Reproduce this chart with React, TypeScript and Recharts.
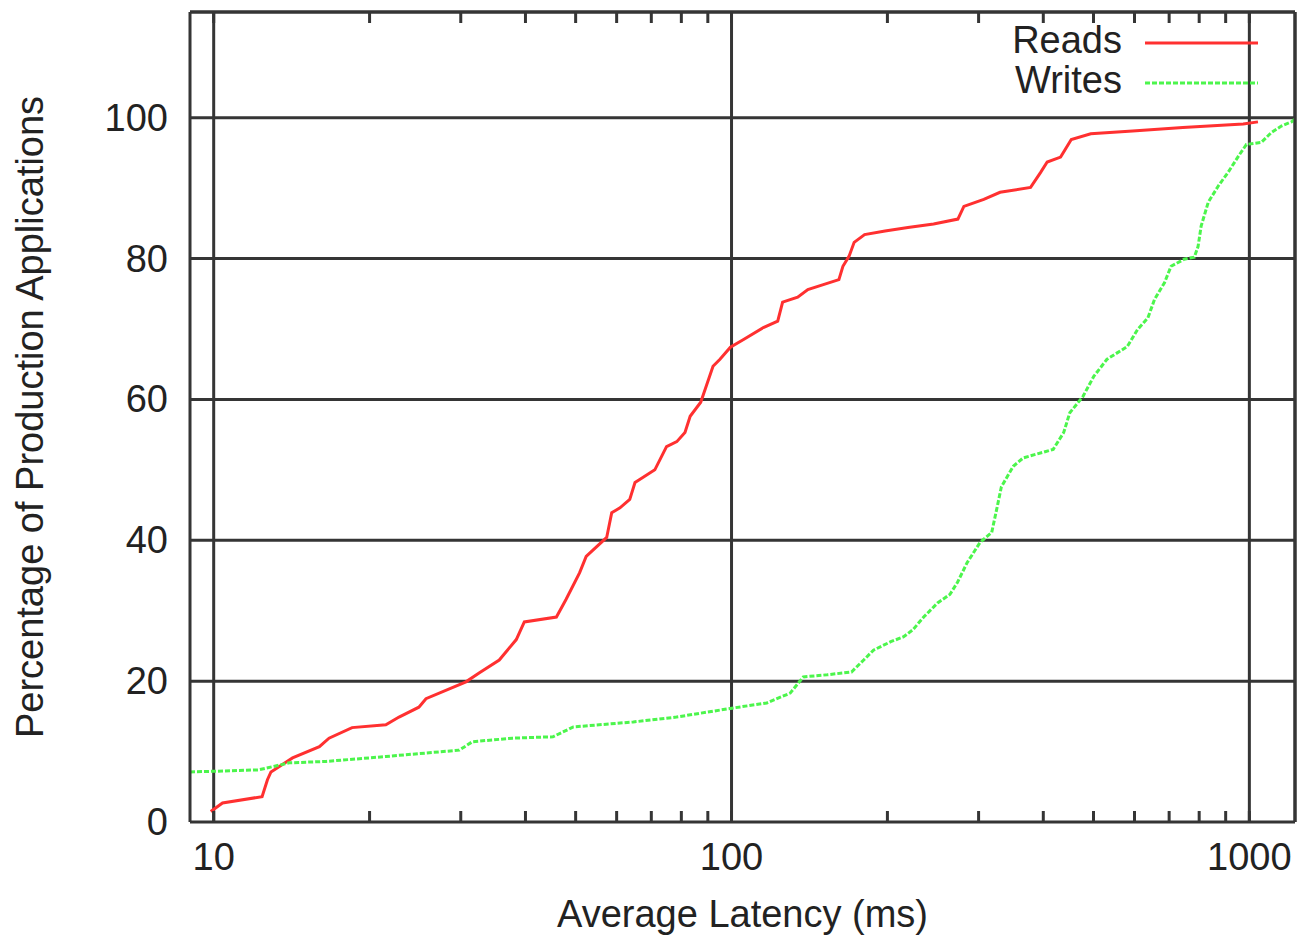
import { LineChart, Line, XAxis, YAxis, ReferenceLine, Legend } from 'recharts';

// latency (ms) / percentage
const readsLatency = [
  9.87, 10.4, 12.4, 12.7, 12.9, 14.2, 16, 16.7, 18.5, 21.5, 22.8, 24.9, 25.7, 30.7, 32.6, 35.6,
  38.4, 39.8, 45.9, 47.9, 50.9, 52.4, 57.4, 58.7, 60.9, 63.6, 65.1, 67.4, 71.1, 74.9, 78.4, 81.3,
  83.2, 87.2, 92.1, 95, 99.5, 105.5, 115.2, 122.8, 125.5, 134.2, 140.4, 150.4, 161.2, 164.1, 168.6,
  172.5, 180.7, 197.9, 219.1, 245.6, 273.6, 281, 307, 330, 378, 395, 407, 432, 453, 494, 595, 744,
  973, 1039,
];
const readsPct = [
  1.5, 2.7, 3.6, 6, 7.1, 9.1, 10.7, 11.9, 13.4, 13.8, 14.9, 16.3, 17.5, 19.9, 21.2, 23,
  25.9, 28.4, 29.1, 31.6, 35.4, 37.7, 40.4, 43.9, 44.6, 45.8, 48.2, 48.9, 50, 53.3, 54, 55.3,
  57.6, 59.6, 64.7, 65.7, 67.4, 68.5, 70.2, 71.1, 73.8, 74.5, 75.6, 76.3, 77, 78.9, 80.3,
  82.3, 83.4, 83.9, 84.4, 84.9, 85.6, 87.4, 88.4, 89.4, 90.1, 92.2, 93.7, 94.4, 96.9, 97.7, 98.1, 98.6,
  99.1, 99.4,
];

const writesLatency = [
  9, 12.2, 14, 16.5, 21.5, 29.8, 31.6, 37.8, 45.2, 49.5, 64.6, 78.3, 101, 117, 129.8, 137.6, 153,
  170.5, 180, 188, 203, 215, 224, 235, 250, 264, 273, 285, 302, 318, 326, 332, 350, 366, 418, 438,
  450, 477, 501, 531, 581, 608, 637, 656, 686, 706, 748, 783, 796, 807, 833, 871, 911, 952, 987,
  1055, 1103, 1153, 1206, 1225,
];
const writesPct = [
  7.1, 7.4, 8.4, 8.6, 9.3, 10.2, 11.4, 11.9, 12.1, 13.5, 14.2, 14.9, 16.2, 16.9, 18.3, 20.6, 20.9,
  21.3, 23, 24.4, 25.6, 26.3, 27.3, 29.1, 31.1, 32.3, 34, 36.8, 39.7, 41.1, 44.8, 47.6, 50.5, 51.7, 52.9, 55.3,
  58.1, 60.4, 63.3, 65.7, 67.5, 69.9, 71.6, 74.2, 76.6, 78.9, 79.9, 80.2, 81.7, 84.6, 88, 90.3, 92.3, 94.5, 96.2,
  96.5, 97.9, 98.8, 99.4, 99.8,
];

const xDomain = [9, 1225];
const yDomain = [0, 115];
const xMajor = [10, 100, 1000];
const xTicks = [10, 20, 30, 40, 50, 60, 70, 80, 90, 100, 200, 300, 400, 500, 600, 700, 800, 900, 1000];
const yTicks = [0, 20, 40, 60, 80, 100];
const yGrid = [20, 40, 60, 80, 100];

const readsData = readsLatency.map((x, i) => ({ x, y: readsPct[i] }));
const writesData = writesLatency.map((x, i) => ({ x, y: writesPct[i] }));

const font = '"Liberation Sans", Arial, sans-serif';
const ink = '#222';
const gridColor = '#353535';

const BottomTick = (props: any) => {
  const { x, y, payload } = props;
  return (
    <g>
      <line x1={x} x2={x} y1={y} y2={y - 11} stroke={gridColor} strokeWidth={3} />
      {xMajor.includes(payload.value) && (
        <text x={x} y={y + 48} textAnchor="middle" fontSize={38} fill={ink} fontFamily={font}>
          {payload.value}
        </text>
      )}
    </g>
  );
};

const TopTick = (props: any) => {
  const { x, y } = props;
  return <line x1={x} x2={x} y1={y} y2={y + 11} stroke={gridColor} strokeWidth={3} />;
};

const LeftTick = (props: any) => {
  const { x, y, payload } = props;
  return (
    <text x={x - 22} y={y + 13} textAnchor="end" fontSize={38} fill={ink} fontFamily={font}>
      {payload.value}
    </text>
  );
};

const YTitle = (props: any) => {
  const { viewBox } = props;
  const cx = viewBox.x + 43;
  const cy = viewBox.y + viewBox.height / 2;
  return (
    <text
      x={cx}
      y={cy}
      transform={`rotate(-90 ${cx} ${cy})`}
      textAnchor="middle"
      fontSize={38}
      fill={ink}
      fontFamily={font}
    >
      Percentage of Production Applications
    </text>
  );
};

const renderLegend = (props: any) => (
  <div>
    {props.payload.map((entry: any) => (
      <div
        key={entry.value}
        style={{ display: 'flex', justifyContent: 'flex-end', alignItems: 'center', height: 40 }}
      >
        <span style={{ fontSize: 38, lineHeight: '40px', color: ink, fontFamily: font }}>{entry.value}</span>
        <svg width={113} height={10} style={{ marginLeft: 23, position: 'relative', top: 3 }}>
          <line
            x1={0}
            x2={113}
            y1={5}
            y2={5}
            stroke={entry.color}
            strokeWidth={3}
            strokeDasharray={entry.payload?.strokeDasharray}
          />
        </svg>
      </div>
    ))}
  </div>
);

export default function App() {
  return (
    <div style={{ position: 'absolute', left: 0, top: 0, background: '#fff' }}>
      <LineChart width={1299} height={938} margin={{ top: 11, right: 3, bottom: 0, left: 0 }}>
        <XAxis
          dataKey="x"
          type="number"
          scale="log"
          domain={xDomain}
          allowDataOverflow
          ticks={xTicks}
          interval={0}
          tickSize={0}
          tickMargin={0}
          tickLine={false}
          tick={BottomTick}
          height={116}
          axisLine={{ stroke: gridColor, strokeWidth: 3 }}
          label={{ value: 'Average Latency (ms)', position: 'insideBottom', offset: 11, fontSize: 38, fill: ink, fontFamily: font }}
        />
        <XAxis
          xAxisId="top"
          orientation="top"
          dataKey="x"
          type="number"
          scale="log"
          domain={xDomain}
          allowDataOverflow
          ticks={xTicks}
          interval={0}
          tickSize={0}
          tickMargin={0}
          tickLine={false}
          tick={TopTick}
          height={1}
          axisLine={{ stroke: gridColor, strokeWidth: 3 }}
        />
        <YAxis
          dataKey="y"
          type="number"
          domain={yDomain}
          allowDataOverflow
          ticks={yTicks}
          interval={0}
          tickSize={0}
          tickMargin={0}
          tickLine={false}
          tick={LeftTick}
          width={190}
          axisLine={{ stroke: gridColor, strokeWidth: 3 }}
          label={{ content: YTitle }}
        />
        <YAxis
          yAxisId="right"
          orientation="right"
          type="number"
          domain={yDomain}
          allowDataOverflow
          ticks={yTicks}
          tick={false}
          tickLine={false}
          width={1}
          axisLine={{ stroke: gridColor, strokeWidth: 3 }}
        />
        {xMajor.map((v) => (
          <ReferenceLine key={`vx${v}`} x={v} stroke={gridColor} strokeWidth={3} />
        ))}
        {yGrid.map((v) => (
          <ReferenceLine key={`hy${v}`} y={v} stroke={gridColor} strokeWidth={3} />
        ))}
        <ReferenceLine y={yDomain[1]} stroke={gridColor} strokeWidth={3} />
        <ReferenceLine x={xDomain[1]} stroke={gridColor} strokeWidth={3} />
        <Legend
          layout="horizontal"
          verticalAlign="middle"
          align="center"
          content={renderLegend}
          wrapperStyle={{ position: 'absolute', top: 20, left: 1000, width: 258, height: 80 }}
        />
        <Line
          name="Reads"
          data={readsData}
          dataKey="y"
          type="linear"
          stroke="#ff3030"
          strokeWidth={3}
          dot={false}
          isAnimationActive={false}
        />
        <Line
          name="Writes"
          data={writesData}
          dataKey="y"
          type="linear"
          stroke="#4cf54c"
          strokeWidth={3}
          strokeDasharray="5 2"
          dot={false}
          isAnimationActive={false}
        />
      </LineChart>
    </div>
  );
}
